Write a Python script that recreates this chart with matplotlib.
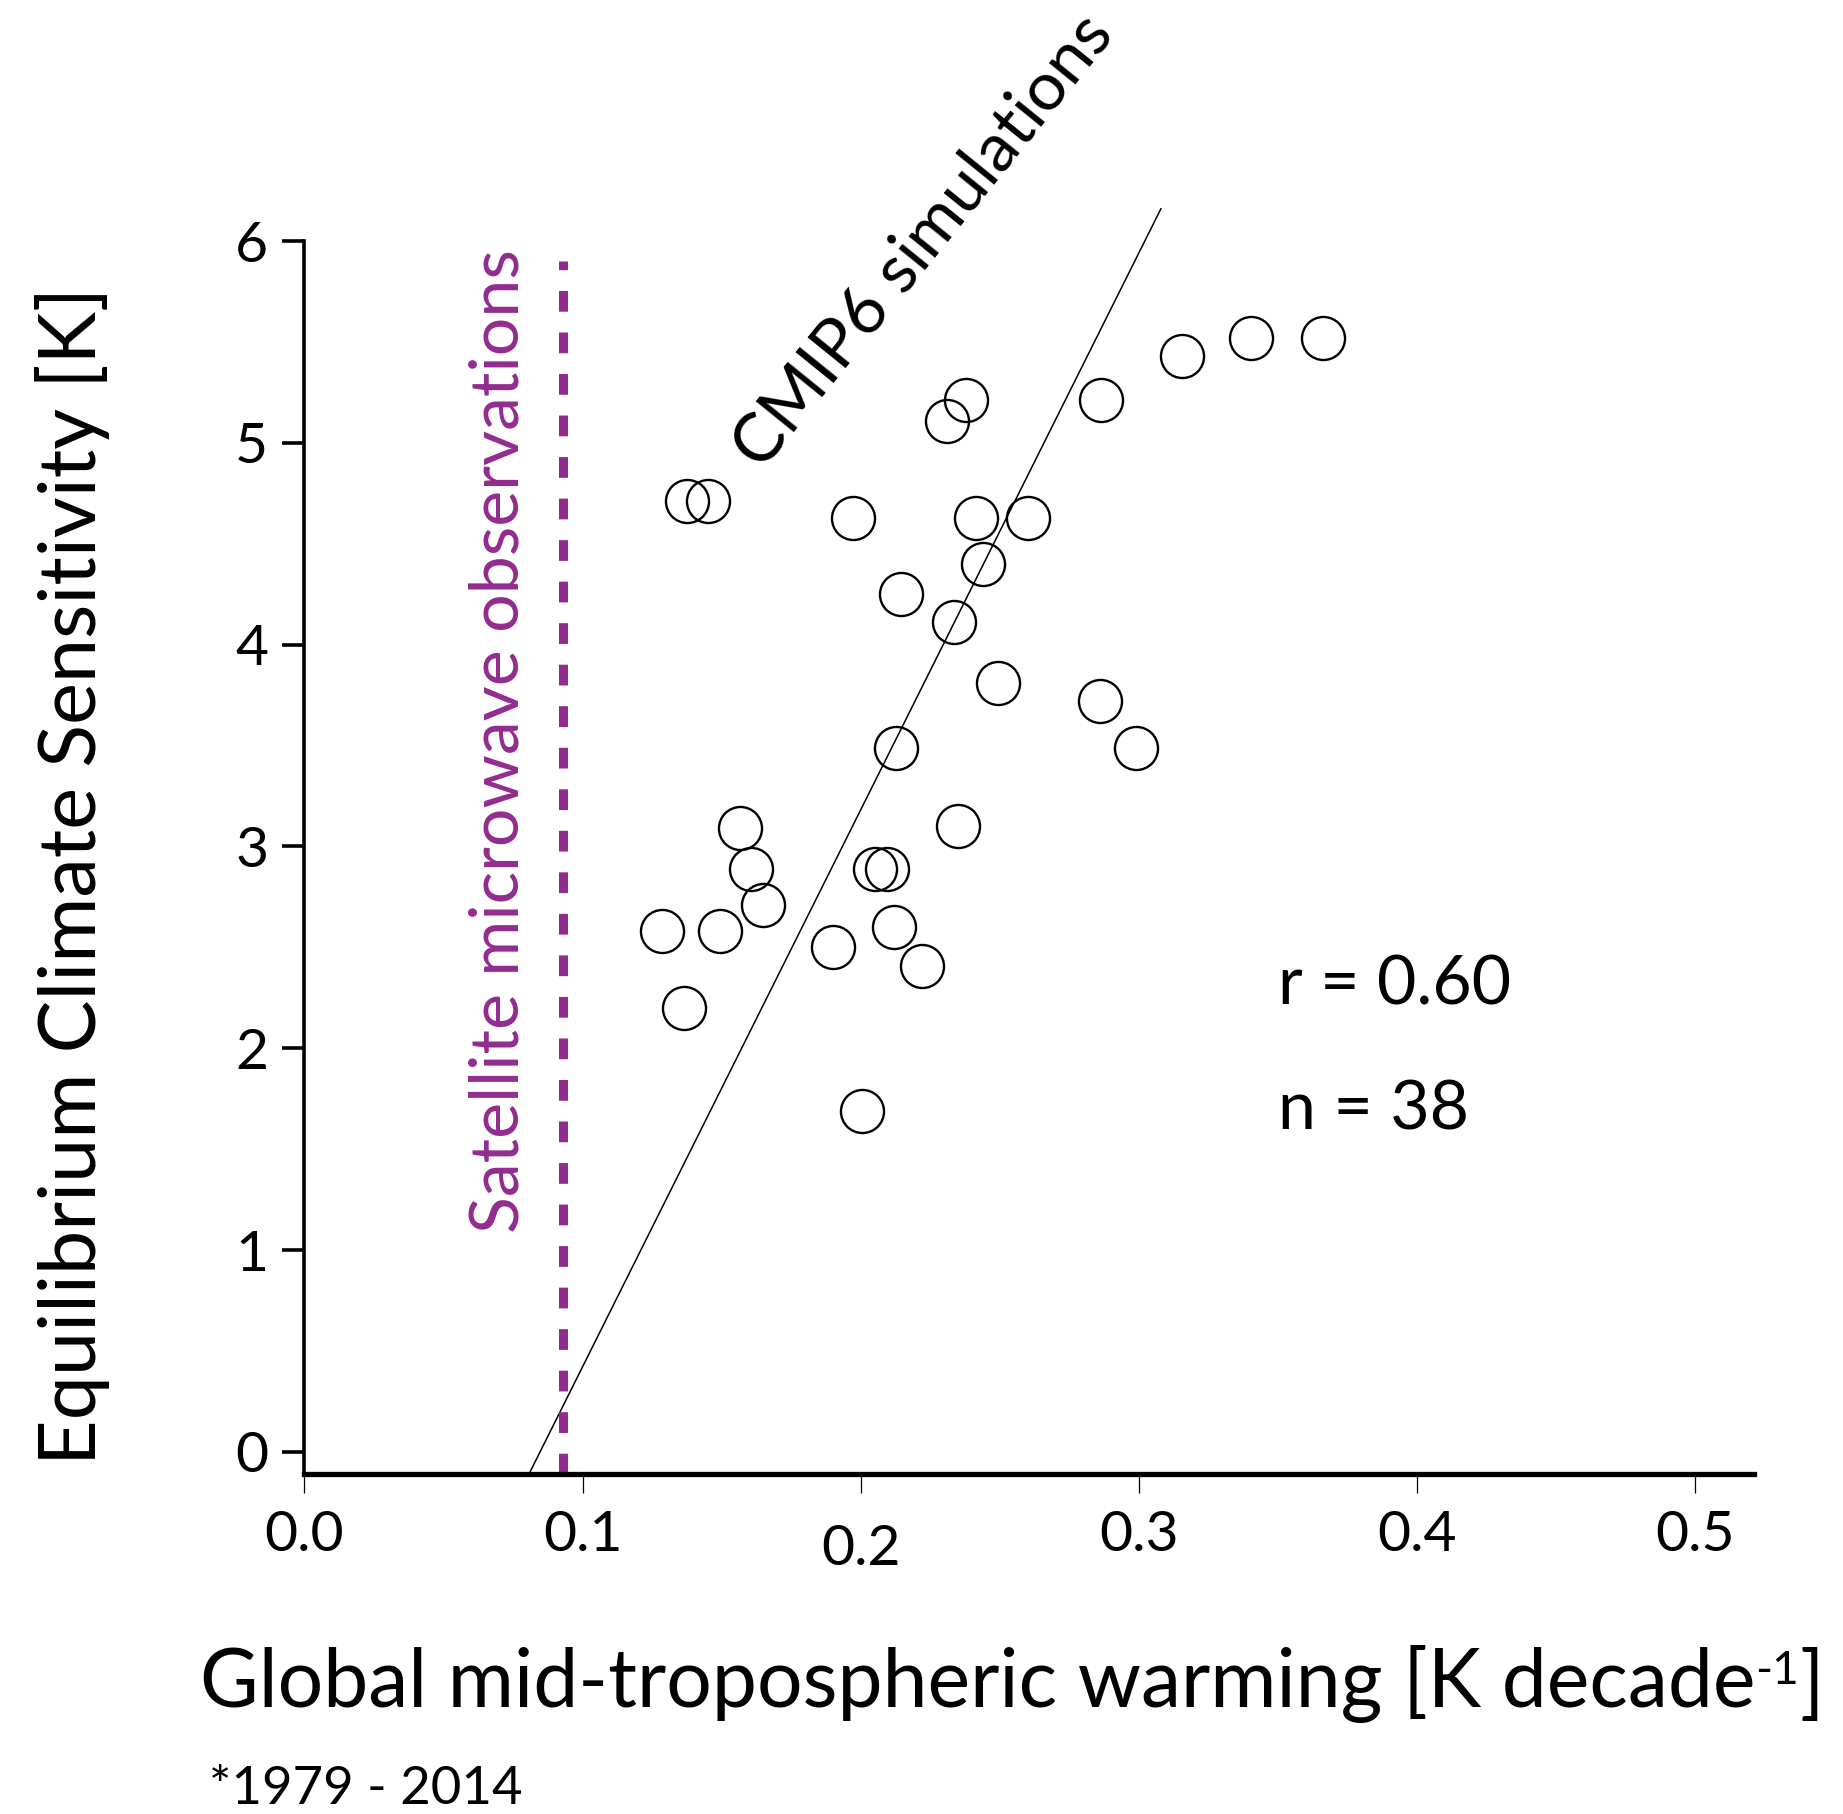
import numpy as np
import matplotlib.pyplot as plt

plt.rcParams['font.family'] = ['Lato', 'DejaVu Sans']

# model warming trends (K/decade) and equilibrium climate sensitivity (K)
tmt_trend = [0.1377, 0.1449, 0.1972, 0.2310, 0.2378, 0.2863, 0.3155, 0.3404,
             0.3661, 0.2416, 0.2601, 0.2441, 0.2145, 0.2335, 0.2492, 0.2859,
             0.2990, 0.2128, 0.2348, 0.1567, 0.1605, 0.1647, 0.1284, 0.1495,
             0.2052, 0.2095, 0.1900, 0.2120, 0.2221, 0.1364, 0.2006]
ecs = [4.71, 4.71, 4.63, 5.11, 5.21, 5.21, 5.43, 5.52,
       5.52, 4.63, 4.63, 4.40, 4.25, 4.11, 3.81, 3.72,
       3.49, 3.49, 3.10, 3.09, 2.89, 2.71, 2.58, 2.58,
       2.89, 2.89, 2.50, 2.60, 2.41, 2.20, 1.69]

# least squares fit as drawn
fit_slope = 27.6
fit_intercept = -2.338
fit_range = [0.0807, 0.3079]

obs_trend = 0.0929
r_value = 0.60
n_models = 38

purple = '#922B8E'

fig = plt.figure(figsize=(18.43, 18.14), dpi=100)
ax = fig.add_axes([0.1652, 0.1873, 0.9515 - 0.1652, 0.8671 - 0.1873])

ax.plot(tmt_trend, ecs, 'o', ms=31, mfc='none', mec='black', mew=1.7,
        zorder=3)

xf = np.array(fit_range)
ax.plot(xf, fit_slope * xf + fit_intercept, color='black', lw=1.1,
        clip_on=False, zorder=2)

ax.plot([obs_trend, obs_trend], [-0.11, 5.9], color=purple, lw=6.5,
        dashes=(2.3, 2.3), clip_on=False, zorder=2)

ax.text(0.0701, 3.52, 'Satellite microwave observations', color=purple,
        rotation=90, ha='center', va='center', fontsize=49)
ax.text(0.2225, 6.0, 'CMIP6 simulations', rotation=51, ha='center',
        va='center', fontsize=49, clip_on=False)
ax.text(0.350, 2.31, 'r = %.2f' % r_value, ha='left', va='center',
        fontsize=49)
ax.text(0.350, 1.69, 'n = %d' % n_models, ha='left', va='center',
        fontsize=49)

ax.set_xlim(0, 0.521)
ax.set_ylim(-0.111, 6)
ax.set_xticks([0.0, 0.1, 0.2, 0.3, 0.4, 0.5])
ax.set_xticklabels(['0.0', '0.1', '0.2', '0.3', '0.4', '0.5'])
ax.set_yticks([0, 1, 2, 3, 4, 5, 6])

for s in ['top', 'right']:
    ax.spines[s].set_visible(False)
ax.spines['left'].set_linewidth(2.6)
ax.spines['bottom'].set_linewidth(3.8)
ax.spines['left'].set_bounds(-0.111, 6)

ax.tick_params(axis='y', length=16, width=2.6, pad=10, labelsize=41)
ax.tick_params(axis='x', length=14, width=0.9, pad=12, labelsize=41)
ax.xaxis.get_major_ticks()[2].set_pad(22)

fig.text(0.0395, 0.517, 'Equilibrium Climate Sensitivity [K]',
         rotation=90, ha='center', va='center', fontsize=57)

# x label with a small raised "-1"
xl = fig.text(0.1084, 0.059, 'Global mid-tropospheric warming [K decade',
              ha='left', va='baseline', fontsize=58)
sup = ax.annotate('-1', xy=(1.0, 0.93), xycoords=xl, ha='left', va='top',
                  fontsize=33)
ax.annotate(']', xy=(1.0, 0.0), xycoords=(sup, xl), ha='left',
            va='bottom', fontsize=58)

fig.text(0.1135, 0.0136, '*1979 - 2014', ha='left', va='center',
         fontsize=38)

fig.savefig('out.png', dpi=100)
